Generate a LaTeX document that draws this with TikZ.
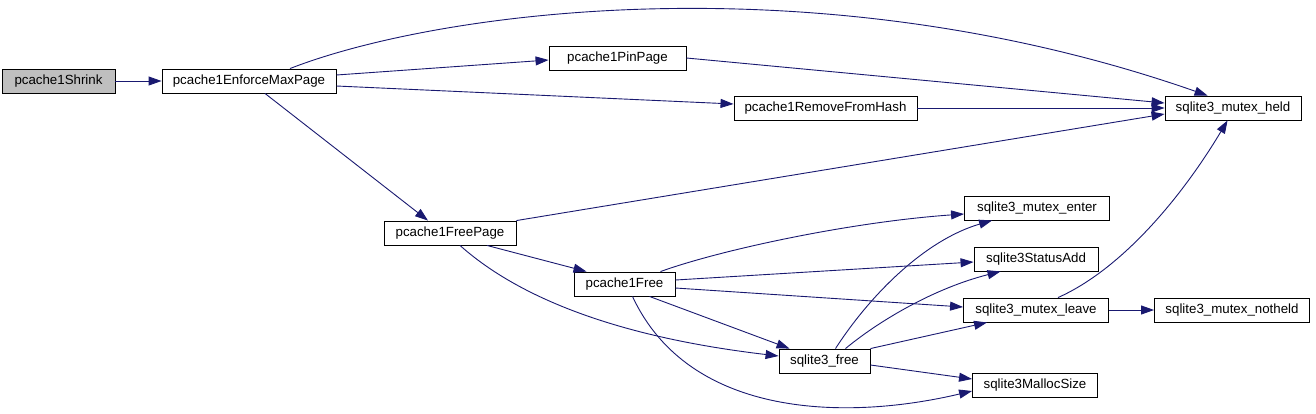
\documentclass[tikz,border=0pt]{standalone}
\usepackage{fontspec}
\setmainfont{Liberation Sans}
\usetikzlibrary{arrows.meta,calc}
\definecolor{edgecol}{HTML}{191970}
\definecolor{rootfill}{HTML}{BFBFBF}
\begin{document}
\begin{tikzpicture}[x=1pt,y=-1pt,
  fn/.style={draw=black,line width=0.9pt,fill=white,rectangle,minimum height=24pt,inner sep=0pt,font=\fontsize{13.3}{15}\selectfont},
  rootfn/.style={fn,fill=rootfill},
  call/.style={draw=edgecol,line width=0.9pt,arrows={-{Triangle[length=13pt,width=9pt,fill=edgecol]}}}]
\useasboundingbox (0,0) rectangle (1316,413);
\node[rootfn,minimum width=113pt] (shrink) at (58.5,81) {pcache1Shrink};
\node[fn,minimum width=174pt] (epm) at (249,81) {pcache1EnforceMaxPage};
\node[fn,minimum width=137pt] (pin) at (617.5,58) {pcache1PinPage};
\node[fn,minimum width=183pt] (rfh) at (825.5,108) {pcache1RemoveFromHash};
\node[fn,minimum width=136pt] (held) at (1233,108) {sqlite3\_mutex\_held};
\node[fn,minimum width=132pt] (fp) at (450,233) {pcache1FreePage};
\node[fn,minimum width=101pt] (free) at (624.5,284) {pcache1Free};
\node[fn,minimum width=91pt] (sfree) at (824.5,361) {sqlite3\_free};
\node[fn,minimum width=145pt] (enter) at (1037,208) {sqlite3\_mutex\_enter};
\node[fn,minimum width=124pt] (status) at (1036,259) {sqlite3StatusAdd};
\node[fn,minimum width=145pt] (leave) at (1036,310) {sqlite3\_mutex\_leave};
\node[fn,minimum width=155pt] (notheld) at (1232,310) {sqlite3\_mutex\_notheld};
\node[fn,minimum width=125pt] (malloc) at (1035,385) {sqlite3MallocSize};

\draw[call] (shrink.east) -- (epm.west);
\draw[call] ($(epm.north)+(41,0)$) .. controls (440,10) and (820,-40) .. ($(held.north west)+(43,0)$);
\draw[call] ($(epm.east)+(0,-6)$) -- ($(pin.west)+(0,2)$);
\draw[call] ($(epm.east)+(0,5)$) -- ($(rfh.west)+(0,-4)$);
\draw[call] ($(epm.south)+(16,0)$) -- ($(fp.north)+(-22,0)$);
\draw[call] (pin.east) -- ($(held.west)+(0,-5)$);
\draw[call] (rfh.east) -- (held.west);
\draw[call] (fp.north east) -- ($(held.west)+(0,6)$);
\draw[call] ($(fp.south)+(37,0)$) -- ($(free.north)+(-38,0)$);
\draw[call] ($(fp.south)+(10,0)$) .. controls (510,290) and (600,335) .. ($(sfree.west)+(0,-5)$);
\draw[call] ($(free.north)+(36,0)$) .. controls (720,250) and (850,222) .. ($(enter.west)+(0,6)$);
\draw[call] ($(free.east)+(0,-4)$) -- ($(status.west)+(0,3)$);
\draw[call] ($(free.east)+(0,4)$) -- ($(leave.west)+(0,-3)$);
\draw[call] ($(free.south)+(25,0)$) -- ($(sfree.north)+(-35,0)$);
\draw[call] ($(free.south)+(8,0)$) .. controls (690,420) and (850,420) .. ($(malloc.west)+(0,6)$);
\draw[call] ($(sfree.north)+(11,0)$) .. controls (870,295) and (925,240) .. ($(enter.south west)+(28,0)$);
\draw[call] ($(sfree.north)+(21,0)$) .. controls (880,320) and (935,288) .. ($(status.south west)+(27,0)$);
\draw[call] (sfree.north east) -- ($(leave.south west)+(24,0)$);
\draw[call] ($(sfree.east)+(0,4)$) -- ($(malloc.west)+(0,-6)$);
\draw[call] ($(leave.north)+(22,0)$) .. controls (1120,270) and (1180,200) .. ($(held.south west)+(63,0)$);
\draw[call] (leave.east) -- (notheld.west);
\end{tikzpicture}
\end{document}
